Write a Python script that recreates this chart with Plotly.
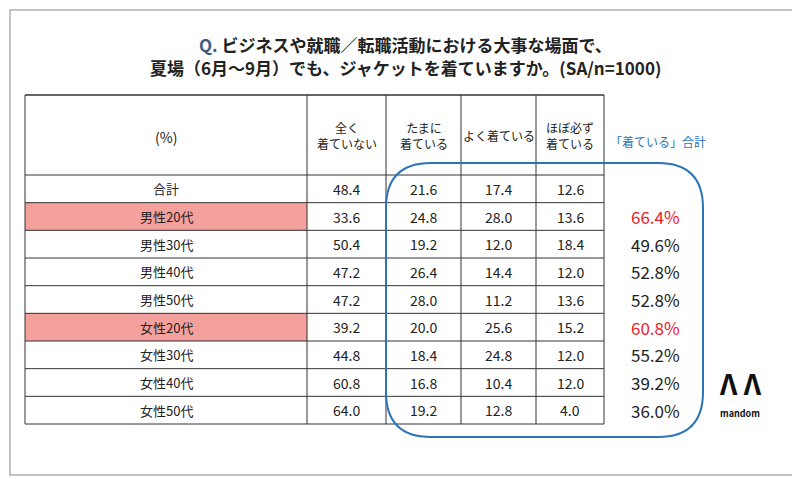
import plotly.graph_objects as go

rows = ["合計", "男性20代", "男性30代", "男性40代", "男性50代", "女性20代", "女性30代", "女性40代", "女性50代"]
headers = ["全く<br>着ていない", "たまに<br>着ている", "よく着ている", "ほぼ必ず<br>着ている"]
never = [48.4, 33.6, 50.4, 47.2, 47.2, 39.2, 44.8, 60.8, 64.0]
sometimes = [21.6, 24.8, 19.2, 26.4, 28.0, 20.0, 18.4, 16.8, 19.2]
often = [17.4, 28.0, 12.0, 14.4, 11.2, 25.6, 24.8, 10.4, 12.8]
always = [12.6, 13.6, 18.4, 12.0, 13.6, 15.2, 12.0, 12.0, 4.0]
wearing_total = [None, 66.4, 49.6, 52.8, 52.8, 60.8, 55.2, 39.2, 36.0]
highlight = ["男性20代", "女性20代"]

FONT = "Noto Sans CJK JP"
fig = go.Figure()
shapes, ann = [], []
cols = [25, 307, 386, 461, 536, 604]
top, hb, bottom = 95, 175, 424
rh = (bottom - hb) / len(rows)

shapes.append(dict(type="rect", x0=10, x1=795, y0=10, y1=475, line=dict(color="#b0b0b0", width=1.5)))
for i, r in enumerate(rows):
    if r in highlight:
        y0 = hb + i * rh
        shapes.append(dict(type="rect", x0=cols[0], x1=cols[1], y0=y0, y1=y0 + rh,
                           fillcolor="#f4a09c", line=dict(width=0), layer="below"))
for x in cols:
    shapes.append(dict(type="line", x0=x, x1=x, y0=top, y1=bottom, line=dict(color="#333", width=1)))
shapes.append(dict(type="line", x0=cols[0], x1=cols[-1], y0=top, y1=top, line=dict(color="#333", width=1.5)))
for i in range(len(rows) + 1):
    y = hb + i * rh
    shapes.append(dict(type="line", x0=cols[0], x1=cols[-1], y0=y, y1=y, line=dict(color="#333", width=1)))

x0, x1, y0, y1, rr = 386, 703, 163, 437, 45
path = (f"M {x0+rr},{y0} L {x1-rr},{y0} Q {x1},{y0} {x1},{y0+rr} L {x1},{y1-rr} Q {x1},{y1} {x1-rr},{y1} "
        f"L {x0+rr},{y1} Q {x0},{y1} {x0},{y1-rr} L {x0},{y0+rr} Q {x0},{y0} {x0+rr},{y0} Z")
shapes.append(dict(type="path", path=path, line=dict(color="#2a74b8", width=2)))

def t(x, y, s, size=13, color="#222"):
    ann.append(dict(x=x, y=y, text=s, showarrow=False, font=dict(size=size, color=color, family=FONT),
                    xanchor="center", yanchor="middle"))

t(405, 44, "<b><span style='color:#3d5a80'>Q.</span> ビジネスや就職／転職活動における大事な場面で、</b>", 17)
t(405, 67, "<b>夏場（6月～9月）でも、ジャケットを着ていますか。(SA/n=1000)</b>", 17)
t((cols[0] + cols[1]) / 2, 137, "(%)", 14)
for j, h in enumerate(headers):
    t((cols[j + 1] + cols[j + 2]) / 2, 135, h, 12)
t(658, 141, "「着ている」合計", 12, "#2a74b8")
for i, r in enumerate(rows):
    yc = hb + (i + 0.5) * rh
    t((cols[0] + cols[1]) / 2, yc, r, 13)
    for j, arr in enumerate([never, sometimes, often, always]):
        t((cols[j + 1] + cols[j + 2]) / 2, yc, f"{arr[i]:.1f}", 14)
    if wearing_total[i] is not None:
        c = "#e8202a" if r in highlight else "#222"
        t(655, yc, f"{wearing_total[i]:.1f}%", 17, c)
t(740, 383, "<b>Λ Λ</b>", 28, "#111")
t(740, 413, "<b>mandom</b>", 9, "#111")

fig.update_layout(width=800, height=479, margin=dict(l=0, r=0, t=0, b=0), plot_bgcolor="white",
                  paper_bgcolor="white", shapes=shapes, annotations=ann, showlegend=False,
                  xaxis=dict(range=[8, 808], visible=False), yaxis=dict(range=[487, 8], visible=False))
fig.write_html("out.html")
